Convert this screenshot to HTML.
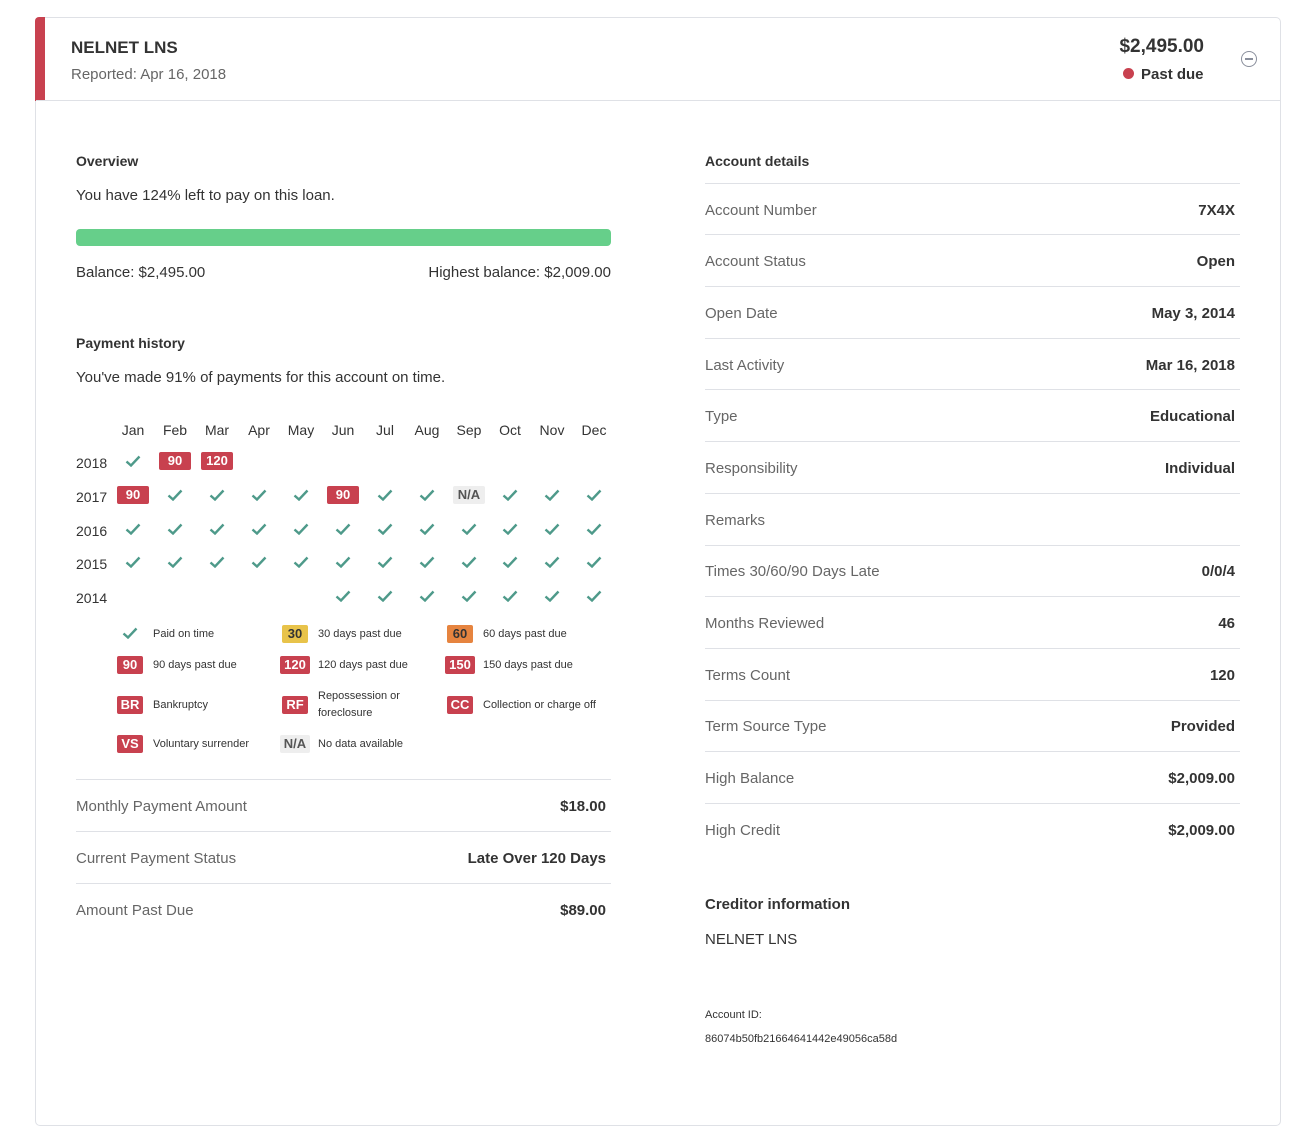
<!DOCTYPE html>
<html><head><meta charset="utf-8"><style>
body{margin:0;width:1294px;height:1140px;background:#fff;font-family:"Liberation Sans",sans-serif;color:#333;position:relative;overflow:hidden}
.card{position:absolute;left:35px;top:17px;width:1244px;height:1107px;border:1px solid #dfe1e6;border-radius:5px}
.bar{position:absolute;left:35px;top:17px;width:10px;height:84px;background:#c8414f;border-top-left-radius:4px}
.hl{position:absolute;left:36px;top:100px;width:1244px;height:1px;background:#dfe1e6}
.t{position:absolute;line-height:20px;white-space:nowrap;padding-top:2px}
.r{text-align:right}
.b{font-weight:bold}
.g{color:#666}
.f15{font-size:15px}
.f14{font-size:14px}
.ln{position:absolute;height:1px;background:#dfe1e6}
.c{position:absolute;width:40px;margin-left:-20px;height:20px;display:flex;align-items:center;justify-content:center}
.bd{display:inline-block;background:#c8414f;color:#fff;font-weight:bold;font-size:13px;line-height:18px;height:18px;padding:0 4px;min-width:26px;text-align:center;border-radius:2px;box-sizing:border-box}
.gr .bd{min-width:32px}
.na{background:#eee;color:#555}
.y30{background:#e8c34a;color:#333}
.o60{background:#e6843f;color:#333}
.lg{position:absolute;font-size:11px;line-height:17px;color:#333;margin-top:2px}
</style></head><body>
<div class="card"></div>
<div class="bar"></div>
<div class="hl"></div>
<div class="t b" style="left:71px;top:36px;font-size:17px">NELNET LNS</div>
<div class="t g f15" style="left:71px;top:63px">Reported: Apr 16, 2018</div>
<div class="t r b" style="right:90px;top:35px;font-size:19px">$2,495.00</div>
<div style="position:absolute;left:1123px;top:68px;width:11px;height:11px;border-radius:50%;background:#c8414f"></div>
<div class="t b f15" style="left:1141px;top:63px">Past due</div>
<div style="position:absolute;left:1241px;top:51px;width:14px;height:14px;border:1.5px solid #8a8f9c;border-radius:50%"></div>
<div style="position:absolute;left:1245px;top:58px;width:8px;height:1.5px;background:#8a8f9c"></div>

<div class="t b f14" style="left:76px;top:149px">Overview</div>
<div class="t f15" style="left:76px;top:184px">You have 124% left to pay on this loan.</div>
<div style="position:absolute;left:76px;top:229px;width:535px;height:17px;background:#66cf8a;border-radius:4px"></div>
<div class="t f15" style="left:76px;top:261px">Balance: $2,495.00</div>
<div class="t f15 r" style="right:683px;top:261px">Highest balance: $2,009.00</div>

<div class="t b f14" style="left:76px;top:331px">Payment history</div>
<div class="t f15" style="left:76px;top:366px">You've made 91% of payments for this account on time.</div>

<div class="c f14" style="left:133px;top:420px">Jan</div>
<div class="c f14" style="left:175px;top:420px">Feb</div>
<div class="c f14" style="left:217px;top:420px">Mar</div>
<div class="c f14" style="left:259px;top:420px">Apr</div>
<div class="c f14" style="left:301px;top:420px">May</div>
<div class="c f14" style="left:343px;top:420px">Jun</div>
<div class="c f14" style="left:385px;top:420px">Jul</div>
<div class="c f14" style="left:427px;top:420px">Aug</div>
<div class="c f14" style="left:469px;top:420px">Sep</div>
<div class="c f14" style="left:510px;top:420px">Oct</div>
<div class="c f14" style="left:552px;top:420px">Nov</div>
<div class="c f14" style="left:594px;top:420px">Dec</div>

<div class="t f14" style="left:76px;top:451px">2018</div>
<div class="t f14" style="left:76px;top:485px">2017</div>
<div class="t f14" style="left:76px;top:519px">2016</div>
<div class="t f14" style="left:76px;top:552px">2015</div>
<div class="t f14" style="left:76px;top:586px">2014</div>

<svg width="0" height="0" style="position:absolute"><defs><symbol id="ck" viewBox="0 0 16 12"><path d="M1.5 6.5 L6 10.5 L14.5 1.5" fill="none" stroke="#4e9a8a" stroke-width="2.4"/></symbol></defs></svg>

<div class="gr">
<!-- 2018 -->
<div class="c" style="left:133px;top:451px"><svg width="16" height="12"><use href="#ck"/></svg></div>
<div class="c" style="left:175px;top:451px"><span class="bd">90</span></div>
<div class="c" style="left:217px;top:451px"><span class="bd">120</span></div>
<!-- 2017 -->
<div class="c" style="left:133px;top:485px"><span class="bd">90</span></div>
<div class="c" style="left:175px;top:485px"><svg width="16" height="12"><use href="#ck"/></svg></div>
<div class="c" style="left:217px;top:485px"><svg width="16" height="12"><use href="#ck"/></svg></div>
<div class="c" style="left:259px;top:485px"><svg width="16" height="12"><use href="#ck"/></svg></div>
<div class="c" style="left:301px;top:485px"><svg width="16" height="12"><use href="#ck"/></svg></div>
<div class="c" style="left:343px;top:485px"><span class="bd">90</span></div>
<div class="c" style="left:385px;top:485px"><svg width="16" height="12"><use href="#ck"/></svg></div>
<div class="c" style="left:427px;top:485px"><svg width="16" height="12"><use href="#ck"/></svg></div>
<div class="c" style="left:469px;top:485px"><span class="bd na">N/A</span></div>
<div class="c" style="left:510px;top:485px"><svg width="16" height="12"><use href="#ck"/></svg></div>
<div class="c" style="left:552px;top:485px"><svg width="16" height="12"><use href="#ck"/></svg></div>
<div class="c" style="left:594px;top:485px"><svg width="16" height="12"><use href="#ck"/></svg></div>
<!-- 2016 -->
<div class="c" style="left:133px;top:519px"><svg width="16" height="12"><use href="#ck"/></svg></div>
<div class="c" style="left:175px;top:519px"><svg width="16" height="12"><use href="#ck"/></svg></div>
<div class="c" style="left:217px;top:519px"><svg width="16" height="12"><use href="#ck"/></svg></div>
<div class="c" style="left:259px;top:519px"><svg width="16" height="12"><use href="#ck"/></svg></div>
<div class="c" style="left:301px;top:519px"><svg width="16" height="12"><use href="#ck"/></svg></div>
<div class="c" style="left:343px;top:519px"><svg width="16" height="12"><use href="#ck"/></svg></div>
<div class="c" style="left:385px;top:519px"><svg width="16" height="12"><use href="#ck"/></svg></div>
<div class="c" style="left:427px;top:519px"><svg width="16" height="12"><use href="#ck"/></svg></div>
<div class="c" style="left:469px;top:519px"><svg width="16" height="12"><use href="#ck"/></svg></div>
<div class="c" style="left:510px;top:519px"><svg width="16" height="12"><use href="#ck"/></svg></div>
<div class="c" style="left:552px;top:519px"><svg width="16" height="12"><use href="#ck"/></svg></div>
<div class="c" style="left:594px;top:519px"><svg width="16" height="12"><use href="#ck"/></svg></div>
<!-- 2015 -->
<div class="c" style="left:133px;top:552px"><svg width="16" height="12"><use href="#ck"/></svg></div>
<div class="c" style="left:175px;top:552px"><svg width="16" height="12"><use href="#ck"/></svg></div>
<div class="c" style="left:217px;top:552px"><svg width="16" height="12"><use href="#ck"/></svg></div>
<div class="c" style="left:259px;top:552px"><svg width="16" height="12"><use href="#ck"/></svg></div>
<div class="c" style="left:301px;top:552px"><svg width="16" height="12"><use href="#ck"/></svg></div>
<div class="c" style="left:343px;top:552px"><svg width="16" height="12"><use href="#ck"/></svg></div>
<div class="c" style="left:385px;top:552px"><svg width="16" height="12"><use href="#ck"/></svg></div>
<div class="c" style="left:427px;top:552px"><svg width="16" height="12"><use href="#ck"/></svg></div>
<div class="c" style="left:469px;top:552px"><svg width="16" height="12"><use href="#ck"/></svg></div>
<div class="c" style="left:510px;top:552px"><svg width="16" height="12"><use href="#ck"/></svg></div>
<div class="c" style="left:552px;top:552px"><svg width="16" height="12"><use href="#ck"/></svg></div>
<div class="c" style="left:594px;top:552px"><svg width="16" height="12"><use href="#ck"/></svg></div>
<!-- 2014 -->
<div class="c" style="left:343px;top:586px"><svg width="16" height="12"><use href="#ck"/></svg></div>
<div class="c" style="left:385px;top:586px"><svg width="16" height="12"><use href="#ck"/></svg></div>
<div class="c" style="left:427px;top:586px"><svg width="16" height="12"><use href="#ck"/></svg></div>
<div class="c" style="left:469px;top:586px"><svg width="16" height="12"><use href="#ck"/></svg></div>
<div class="c" style="left:510px;top:586px"><svg width="16" height="12"><use href="#ck"/></svg></div>
<div class="c" style="left:552px;top:586px"><svg width="16" height="12"><use href="#ck"/></svg></div>
<div class="c" style="left:594px;top:586px"><svg width="16" height="12"><use href="#ck"/></svg></div>
</div>

<!-- legend -->
<div class="c" style="left:130px;top:623px"><svg width="16" height="12"><use href="#ck"/></svg></div>
<div class="lg" style="left:153px;top:624px">Paid on time</div>
<div class="c" style="left:295px;top:624px"><span class="bd y30">30</span></div>
<div class="lg" style="left:318px;top:624px">30 days past due</div>
<div class="c" style="left:460px;top:624px"><span class="bd o60">60</span></div>
<div class="lg" style="left:483px;top:624px">60 days past due</div>

<div class="c" style="left:130px;top:655px"><span class="bd">90</span></div>
<div class="lg" style="left:153px;top:655px">90 days past due</div>
<div class="c" style="left:295px;top:655px"><span class="bd">120</span></div>
<div class="lg" style="left:318px;top:655px">120 days past due</div>
<div class="c" style="left:460px;top:655px"><span class="bd">150</span></div>
<div class="lg" style="left:483px;top:655px">150 days past due</div>

<div class="c" style="left:130px;top:695px"><span class="bd">BR</span></div>
<div class="lg" style="left:153px;top:695px">Bankruptcy</div>
<div class="c" style="left:295px;top:695px"><span class="bd">RF</span></div>
<div class="lg" style="left:318px;top:686px">Repossession or<br>foreclosure</div>
<div class="c" style="left:460px;top:695px"><span class="bd">CC</span></div>
<div class="lg" style="left:483px;top:695px">Collection or charge off</div>

<div class="c" style="left:130px;top:734px"><span class="bd">VS</span></div>
<div class="lg" style="left:153px;top:734px">Voluntary surrender</div>
<div class="c" style="left:295px;top:734px"><span class="bd na">N/A</span></div>
<div class="lg" style="left:318px;top:734px">No data available</div>

<div class="ln" style="left:76px;top:779px;width:535px"></div>
<div class="t f15 g" style="left:76px;top:795px">Monthly Payment Amount</div>
<div class="t f15 b r" style="right:688px;top:795px">$18.00</div>
<div class="ln" style="left:76px;top:831px;width:535px"></div>
<div class="t f15 g" style="left:76px;top:847px">Current Payment Status</div>
<div class="t f15 b r" style="right:688px;top:847px">Late Over 120 Days</div>
<div class="ln" style="left:76px;top:883px;width:535px"></div>
<div class="t f15 g" style="left:76px;top:899px">Amount Past Due</div>
<div class="t f15 b r" style="right:688px;top:899px">$89.00</div>

<!-- right column -->
<div class="t b f14" style="left:705px;top:149px">Account details</div>
<div class="ln" style="left:705px;top:183px;width:535px"></div>
<div class="t f15 g" style="left:705px;top:199px">Account Number</div><div class="t f15 b r" style="right:59px;top:199px">7X4X</div>
<div class="ln" style="left:705px;top:234px;width:535px"></div>
<div class="t f15 g" style="left:705px;top:250px">Account Status</div><div class="t f15 b r" style="right:59px;top:250px">Open</div>
<div class="ln" style="left:705px;top:286px;width:535px"></div>
<div class="t f15 g" style="left:705px;top:302px">Open Date</div><div class="t f15 b r" style="right:59px;top:302px">May 3, 2014</div>
<div class="ln" style="left:705px;top:338px;width:535px"></div>
<div class="t f15 g" style="left:705px;top:354px">Last Activity</div><div class="t f15 b r" style="right:59px;top:354px">Mar 16, 2018</div>
<div class="ln" style="left:705px;top:389px;width:535px"></div>
<div class="t f15 g" style="left:705px;top:405px">Type</div><div class="t f15 b r" style="right:59px;top:405px">Educational</div>
<div class="ln" style="left:705px;top:441px;width:535px"></div>
<div class="t f15 g" style="left:705px;top:457px">Responsibility</div><div class="t f15 b r" style="right:59px;top:457px">Individual</div>
<div class="ln" style="left:705px;top:493px;width:535px"></div>
<div class="t f15 g" style="left:705px;top:509px">Remarks</div>
<div class="ln" style="left:705px;top:545px;width:535px"></div>
<div class="t f15 g" style="left:705px;top:560px">Times 30/60/90 Days Late</div><div class="t f15 b r" style="right:59px;top:560px">0/0/4</div>
<div class="ln" style="left:705px;top:596px;width:535px"></div>
<div class="t f15 g" style="left:705px;top:612px">Months Reviewed</div><div class="t f15 b r" style="right:59px;top:612px">46</div>
<div class="ln" style="left:705px;top:648px;width:535px"></div>
<div class="t f15 g" style="left:705px;top:664px">Terms Count</div><div class="t f15 b r" style="right:59px;top:664px">120</div>
<div class="ln" style="left:705px;top:700px;width:535px"></div>
<div class="t f15 g" style="left:705px;top:715px">Term Source Type</div><div class="t f15 b r" style="right:59px;top:715px">Provided</div>
<div class="ln" style="left:705px;top:751px;width:535px"></div>
<div class="t f15 g" style="left:705px;top:767px">High Balance</div><div class="t f15 b r" style="right:59px;top:767px">$2,009.00</div>
<div class="ln" style="left:705px;top:803px;width:535px"></div>
<div class="t f15 g" style="left:705px;top:819px">High Credit</div><div class="t f15 b r" style="right:59px;top:819px">$2,009.00</div>

<div class="t b f15" style="left:705px;top:893px">Creditor information</div>
<div class="t f15" style="left:705px;top:928px">NELNET LNS</div>
<div class="t" style="left:705px;top:1003px;font-size:11px">Account ID:</div>
<div class="t" style="left:705px;top:1027px;font-size:11px">86074b50fb21664641442e49056ca58d</div>
</body></html>
